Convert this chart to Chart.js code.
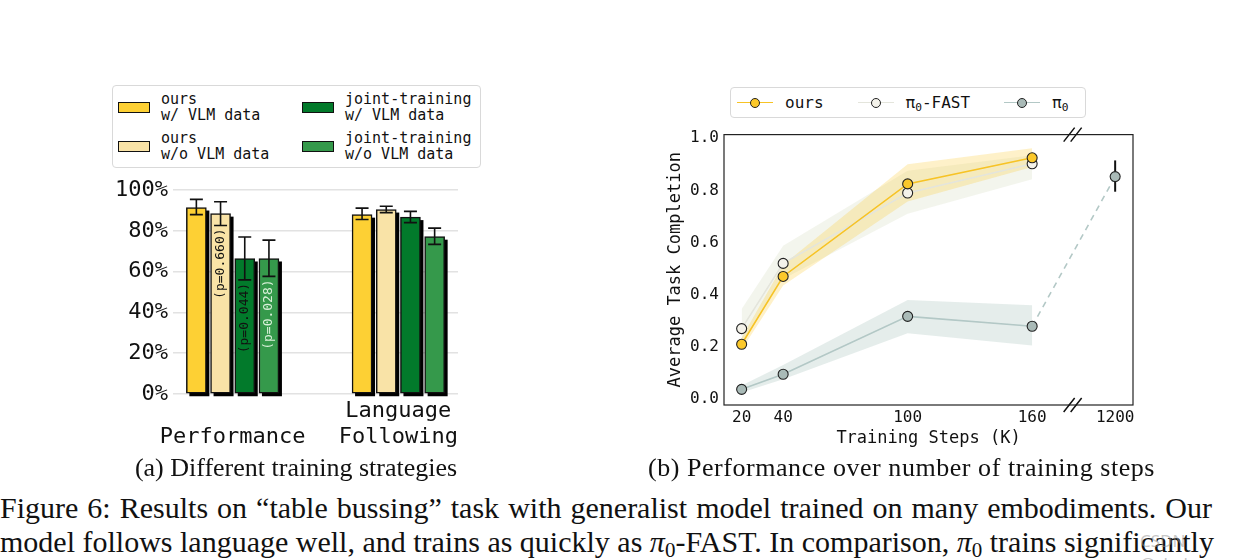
<!DOCTYPE html>
<html>
<head>
<meta charset="utf-8">
<title>Figure 6</title>
<script src="https://cdn.jsdelivr.net/npm/chart.js@4.4.1/dist/chart.umd.min.js"></script>
<style>
  html, body { margin: 0; padding: 0; background: #fff; }
  body { position: relative; width: 1260px; height: 560px; overflow: hidden; color: #111; }
  .mono { font-family: "DejaVu Sans Mono", monospace; }
  #barChart { position: absolute; left: 100px; top: 172px; }
  #lineChart { position: absolute; left: 655px; top: 120px; }
  #legendA {
    position: absolute; left: 112px; top: 85px; width: 369px; height: 83px;
    box-sizing: border-box; border: 1px solid #d9d9d9; border-radius: 4px;
    padding: 5px 0 0 5px; display: grid; grid-template-columns: 184px auto;
    grid-template-rows: 32px 32px; row-gap: 7px; grid-auto-flow: column;
    font-size: 15px; line-height: 16px;
  }
  .itemA { display: flex; align-items: center; }
  .swatch { width: 30px; height: 9px; border: 1px solid #111; margin-right: 11px; flex: none; }
  #legendB {
    position: absolute; left: 730px; top: 87px; width: 356px; height: 31px;
    box-sizing: border-box; border: 1px solid #d9d9d9; border-radius: 4px;
    display: flex; align-items: center; padding-left: 6px; font-size: 16px;
  }
  .itemB { display: flex; align-items: center; white-space: nowrap; }
  .itemB + .itemB { margin-left: 34px; }
  .handle { position: relative; width: 36px; height: 10px; margin-right: 12px; flex: none; }
  .handle .ln { position: absolute; left: 0; right: 0; top: 4px; height: 1.5px; }
  .handle .pt { position: absolute; left: 13px; top: 0; width: 8px; height: 8px; border: 1px solid #222; border-radius: 50%; }
  sub { font-size: 0.7em; vertical-align: -0.25em; line-height: 0; }
  .sub { position: absolute; top: 455px; font-family: "Liberation Serif", serif; font-size: 26px; line-height: 25px; text-align: center; white-space: nowrap; }
  .cap { position: absolute; left: 0; width: 1212px; font-family: "Liberation Serif", serif; font-size: 30px; line-height: 34px; white-space: nowrap; text-align: justify; text-align-last: justify; }
  #watermark { position: absolute; left: 1140px; top: 529px; font-family: "Noto Sans", sans-serif; font-size: 17px; color: rgba(150,150,150,0.55); }
</style>
</head>
<body>
<div id="legendA" class="mono"></div>
<canvas id="barChart" width="372" height="283"></canvas>

<div id="legendB" class="mono"></div>
<canvas id="lineChart" width="495" height="345"></canvas>

<div class="sub" style="left:0; width:592px;">(a) Different training strategies</div>
<div class="sub" style="left:601px; width:601px; letter-spacing:0.55px;">(b) Performance over number of training steps</div>

<div class="cap" style="top:491px;">Figure 6: Results on “table bussing” task with generalist model trained on many embodiments. Our</div>
<div class="cap" style="top:525px;">model follows language well, and trains as quickly as <i>π</i><sub>0</sub>-FAST. In comparison, <i>π</i><sub>0</sub> trains significantly</div>
<div id="watermark">CSDN @shelo_znn</div>

<script>
// ---------- (a) different training strategies ----------
const groupLabels = [['', 'Performance'], ['Language', 'Following']];
const seriesNames = [['ours', 'w/ VLM data'], ['ours', 'w/o VLM data'],
                     ['joint-training', 'w/ VLM data'], ['joint-training', 'w/o VLM data']];
const oursVlm      = [91.5, 88.0];
const oursNoVlm    = [88.5, 90.5];
const jointVlm     = [66.5, 86.8];
const jointNoVlm   = [66.5, 77.2];
const oursVlmErr    = [[88.0, 95.5], [85.6, 91.2]];
const oursNoVlmErr  = [[82.7, 94.3], [89.0, 92.1]];
const jointVlmErr   = [[56.0, 77.0], [84.1, 89.6]];
const jointNoVlmErr = [[57.7, 75.5], [73.4, 81.4]];
const pLabels = [null, '(p=0.660)', '(p=0.044)', '(p=0.028)'];
const barTicks = [0, 20, 40, 60, 80, 100];

// ---------- (b) performance over training steps ----------
const steps    = [20, 40, 100, 160, 1200];
const oursMean = [0.21, 0.47, 0.825, 0.925];
const oursLow  = [0.19, 0.435, 0.757, 0.89];
const oursHigh = [0.235, 0.515, 0.90, 0.962];
const fastMean = [0.27, 0.52, 0.79, 0.902];
const fastLow  = [0.21, 0.46, 0.71, 0.843];
const fastHigh = [0.345, 0.588, 0.875, 0.935];
const pi0Mean  = [0.037, 0.095, 0.317, 0.279, 0.853];
const pi0Low   = [0.025, 0.076, 0.252, 0.205];
const pi0High  = [0.052, 0.13, 0.38, 0.36];
const pi0LastErr = [0.795, 0.915];
const lineTicks = [0, 0.2, 0.4, 0.6, 0.8, 1.0];

// styling
const barColors = ['#fdd034', '#f9e3a7', '#027a2b', '#35994b'];
const pColors = ['#111', '#111', '#111', '#d9f0d9'];
const BAR_STEP = 0.146;
const MONO = '"DejaVu Sans Mono", monospace';
const BREAK_AFTER = 160;   // axis is broken between 160 and 1200
const BROKEN_X = 200;      // where the 1200 column sits on the axis

const seriesValues = [oursVlm, oursNoVlm, jointVlm, jointNoVlm];
const seriesErr = [oursVlmErr, oursNoVlmErr, jointVlmErr, jointNoVlmErr];

// legend (a)
const legA = document.getElementById('legendA');
seriesNames.forEach((name, i) => {
    const item = document.createElement('div');
    item.className = 'itemA';
    item.innerHTML = `<span class="swatch" style="background:${barColors[i]}"></span><span>${name[0]}<br>${name[1]}</span>`;
    legA.appendChild(item);
});

const barDecor = {
    id: 'barDecor',
    beforeDatasetsDraw(chart) {
        // hard drop shadow behind each bar
        const ctx = chart.ctx;
        ctx.save();
        ctx.fillStyle = '#000';
        chart.data.datasets.forEach((ds, i) => {
            chart.getDatasetMeta(i).data.forEach(bar => {
                const p = bar.getProps(['x', 'y', 'base', 'width'], true);
                ctx.fillRect(p.x - p.width / 2 + 3, p.y + 3, p.width, p.base - p.y);
            });
        });
        ctx.restore();
    },
    afterDatasetsDraw(chart) {
        const ctx = chart.ctx;
        const ys = chart.scales.y;
        ctx.save();
        ctx.strokeStyle = '#111';
        ctx.lineWidth = 1.6;
        chart.data.datasets.forEach((ds, i) => {
            chart.getDatasetMeta(i).data.forEach((bar, g) => {
                const x = bar.x;
                const lo = ys.getPixelForValue(seriesErr[i][g][0]);
                const hi = ys.getPixelForValue(seriesErr[i][g][1]);
                ctx.beginPath();
                ctx.moveTo(x, lo); ctx.lineTo(x, hi);
                ctx.moveTo(x - 6.5, lo); ctx.lineTo(x + 6.5, lo);
                ctx.moveTo(x - 6.5, hi); ctx.lineTo(x + 6.5, hi);
                ctx.stroke();
            });
        });
        // p-values, written upwards inside the Performance bars
        ctx.font = '13px ' + MONO;
        ctx.textAlign = 'right';
        ctx.textBaseline = 'middle';
        pLabels.forEach((txt, i) => {
            if (!txt) return;
            const bar = chart.getDatasetMeta(i).data[0];
            const lo = ys.getPixelForValue(seriesErr[i][0][0]);
            ctx.save();
            ctx.translate(bar.x, lo + 3);
            ctx.rotate(-Math.PI / 2);
            ctx.fillStyle = pColors[i];
            ctx.fillText(txt, 0, 0);
            ctx.restore();
        });
        ctx.restore();
    }
};

new Chart(document.getElementById('barChart'), {
    type: 'bar',
    data: {
        datasets: seriesValues.map((vals, i) => ({
            label: seriesNames[i].join(' '),
            data: vals.map((v, g) => ({ x: g + (i - 1.5) * BAR_STEP, y: v })),
            backgroundColor: barColors[i],
            borderColor: '#111',
            borderWidth: 1.5,
            borderSkipped: false,
            barThickness: 20,
            grouped: false
        }))
    },
    options: {
        responsive: false,
        animation: false,
        layout: { padding: { top: 14, right: 14, left: 0, bottom: 0 } },
        plugins: { legend: { display: false }, tooltip: { enabled: false } },
        scales: {
            x: {
                type: 'linear',
                min: -0.36,
                max: 1.36,
                offset: false,
                grid: { display: false, offset: false, drawTicks: false },
                border: { display: false },
                afterBuildTicks: s => { s.ticks = groupLabels.map((_, g) => ({ value: g })); },
                afterFit: s => { s.height = 61; },
                ticks: {
                    padding: 4,
                    color: '#111',
                    font: { family: MONO, size: 22 },
                    maxRotation: 0,
                    autoSkip: false,
                    callback: (v, i) => groupLabels[i]
                }
            },
            y: {
                min: 0,
                max: 100,
                grid: { color: '#e2e2e2', lineWidth: 1.5, drawTicks: false },
                border: { display: false },
                afterBuildTicks: s => { s.ticks = barTicks.map(v => ({ value: v })); },
                afterFit: s => { s.width = 73; },
                ticks: {
                    padding: 5,
                    color: '#111',
                    font: { family: MONO, size: 22 },
                    callback: v => v + '%'
                }
            }
        }
    },
    plugins: [barDecor]
});

// ---------- chart (b) ----------
const xPos = step => (step > BREAK_AFTER ? BROKEN_X : step);
const pts = vals => vals.map((v, i) => ({ x: xPos(steps[i]), y: v }));

const lineStyles = [
    { name: 'ours', html: 'ours', line: '#f7c325', point: '#fbc82a', band: 'rgba(250,204,60,0.28)' },
    { name: 'π0-FAST', html: 'π<sub>0</sub>-FAST', line: '#e4e5dc', point: '#f4f2ea', band: 'rgba(226,230,212,0.42)' },
    { name: 'π0', html: 'π<sub>0</sub>', line: '#b3c8c6', point: '#a9bab7', band: 'rgba(168,194,190,0.30)' }
];

const legB = document.getElementById('legendB');
lineStyles.forEach(st => {
    const item = document.createElement('div');
    item.className = 'itemB';
    item.innerHTML = `<span class="handle"><span class="ln" style="background:${st.line}"></span><span class="pt" style="background:${st.point}"></span></span><span>${st.html}</span>`;
    legB.appendChild(item);
});

function lineSet(vals, st, order, extra) {
    return Object.assign({
        label: st.name,
        data: pts(vals),
        borderColor: st.line,
        borderWidth: 1.6,
        pointRadius: 5,
        pointBackgroundColor: st.point,
        pointBorderColor: '#222',
        pointBorderWidth: 1.1,
        fill: false,
        tension: 0,
        order: order
    }, extra || {});
}
function bandPair(low, high, st, order) {
    const base = { borderColor: 'transparent', borderWidth: 1, pointRadius: 0, tension: 0, order: order };
    return [
        Object.assign({ label: st.name + ' low', data: pts(low), fill: false }, base),
        Object.assign({ label: st.name + ' high', data: pts(high), fill: '-1', backgroundColor: st.band }, base)
    ];
}

const lineDecor = {
    id: 'lineDecor',
    beforeDatasetsDraw(chart) {
        const { ctx, scales: { x, y } } = chart;
        const last = steps.length - 1;
        const px = x.getPixelForValue(xPos(steps[last]));
        ctx.save();
        ctx.strokeStyle = '#111';
        ctx.lineWidth = 2;
        ctx.beginPath();
        ctx.moveTo(px, y.getPixelForValue(pi0LastErr[0]));
        ctx.lineTo(px, y.getPixelForValue(pi0LastErr[1]));
        ctx.stroke();
        ctx.restore();
    },
    afterDraw(chart) {
        const { ctx, chartArea: a, scales: { x } } = chart;
        ctx.save();
        ctx.strokeStyle = '#222';
        ctx.lineWidth = 1.2;
        ctx.strokeRect(a.left, a.top, a.width, a.height);
        // "//" break marks on top and bottom spines
        const bx = x.getPixelForValue((BREAK_AFTER + BROKEN_X) / 2);
        ctx.lineWidth = 1.5;
        ctx.strokeStyle = '#111';
        [a.top, a.bottom].forEach(yy => {
            ctx.beginPath();
            ctx.moveTo(bx - 10, yy + 7); ctx.lineTo(bx + 1, yy - 7);
            ctx.moveTo(bx - 3, yy + 7); ctx.lineTo(bx + 8, yy - 7);
            ctx.stroke();
        });
        ctx.restore();
    }
};

new Chart(document.getElementById('lineChart'), {
    type: 'line',
    data: {
        datasets: [
            lineSet(oursMean, lineStyles[0], 0),
            lineSet(fastMean, lineStyles[1], 1),
            lineSet(pi0Mean, lineStyles[2], 2, {
                segment: { borderDash: c => (steps[c.p1DataIndex] > BREAK_AFTER ? [6, 5] : undefined) }
            }),
            ...bandPair(pi0Low, pi0High, lineStyles[2], 10),
            ...bandPair(oursLow, oursHigh, lineStyles[0], 11),
            ...bandPair(fastLow, fastHigh, lineStyles[1], 12)
        ]
    },
    options: {
        responsive: false,
        animation: false,
        layout: { padding: { top: 13, right: 17, left: 0, bottom: 0 } },
        plugins: { legend: { display: false }, tooltip: { enabled: false } },
        scales: {
            x: {
                type: 'linear',
                min: 11.5,
                max: 208.6,
                grid: { display: false, drawTicks: false },
                border: { display: false },
                afterBuildTicks: s => { s.ticks = steps.map(v => ({ value: xPos(v) })); },
                afterFit: s => { s.height = 60; },
                title: {
                    display: true,
                    text: 'Training Steps (K)',
                    color: '#111',
                    font: { family: MONO, size: 17 },
                    padding: { top: 0, bottom: 16 }
                },
                ticks: {
                    padding: 3,
                    color: '#111',
                    font: { family: MONO, size: 16 },
                    maxRotation: 0,
                    autoSkip: false,
                    callback: (v, i) => String(steps[i])
                }
            },
            y: {
                min: -0.023,
                max: 1.014,
                grid: { display: false, drawTicks: false },
                border: { display: false },
                afterBuildTicks: s => { s.ticks = lineTicks.map(v => ({ value: v })); },
                afterFit: s => { s.width = 69; },
                title: {
                    display: true,
                    text: 'Average Task Completion',
                    color: '#111',
                    font: { family: MONO, size: 17 },
                    padding: { top: 10, bottom: 0 }
                },
                ticks: {
                    padding: 5,
                    color: '#111',
                    font: { family: MONO, size: 16 },
                    callback: v => v.toFixed(1)
                }
            }
        }
    },
    plugins: [lineDecor]
});
</script>
</body>
</html>
